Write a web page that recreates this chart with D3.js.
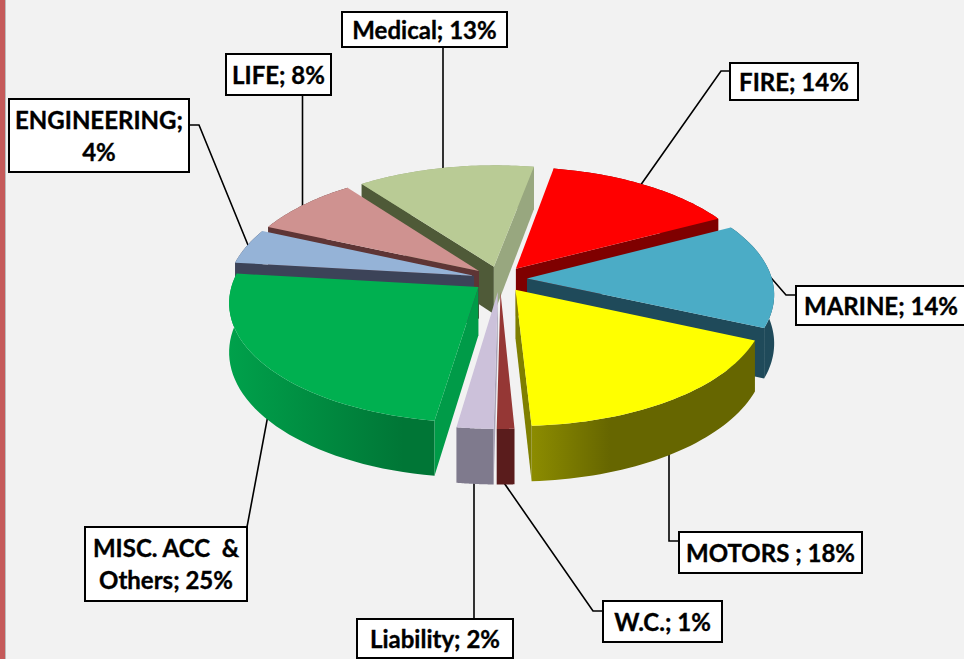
<!DOCTYPE html>
<html>
<head>
<meta charset="utf-8">
<script src="https://cdn.jsdelivr.net/npm/d3@7"></script>
<style>
  html, body { margin: 0; padding: 0; background: #f2f2f2; overflow: hidden; }
  text { font-family: Lato, "Open Sans", sans-serif; font-weight: 700; font-size: 24px; fill: #000; stroke: #000; stroke-width: 0.35px; white-space: pre; }
</style>
</head>
<body>
<svg id="chart" width="964" height="659"></svg>
<script>
// Section-One Data
const categories = ["FIRE", "MARINE", "MOTORS ", "W.C.", "Liability", "MISC. ACC  & Others", "ENGINEERING", "LIFE", "Medical"];
const labelValues = [14, 14, 18, 1, 2, 25, 4, 8, 13];
// slice sizes as measured off the drawn angles, not the same as the printed labels
const sliceValues = [14.4, 14.3, 17.6, 1.0, 2.1, 24.5, 4.8, 8.1, 13.2];

// Styling, same order as categories
const topColors = ["#ff0000", "#4bacc6", "#ffff00", "#953735", "#ccc1da", "#00b050", "#95b3d7", "#cf9290", "#b9cb95"];
const startWall = ["#7f0000", "#1f4a5a", "#7f7f00", "#8a3030", "#aaa3b8", "#009b48", "#3c4358", "#5e3535", "#4f5a38"];
const endWall = ["#7f0000", "#1f4a5a", "#7f7f00", "#5a1c1c", "#7f7a8d", "#007a37", "#3c4358", "#5e3535", "#98a77f"];
const rimLeft = ["#7f0000", "#1f4a5a", "#666600", "#5a1c1c", "#7f7a8d", "#00a14b", "#3c4358", "#5e3535", "#98a77f"];
const rimRight = ["#7f0000", "#1f4a5a", "#8c8c00", "#5a1c1c", "#7f7a8d", "#007636", "#3c4358", "#5e3535", "#98a77f"];
const drawOrder = [8, 0, 7, 6, 1, 5, 2, 4, 3];

// label boxes [x, y, w, h], text break and leader line
const labelBoxes = [
  { box: [730, 63, 128, 37], line: [[730, 71], [721, 71], [640, 186]] },
  { box: [796, 286, 170, 39], line: [[796, 295], [786, 295], [766, 272]] },
  { box: [679, 532, 183, 41], line: [[679, 541], [669, 541], [669, 452]] },
  { box: [603, 601, 119, 41], line: [[603, 611], [593, 611], [502, 480]] },
  { box: [357, 619, 156, 39], line: [[474, 619], [474, 480]] },
  { box: [85, 527, 162, 74], wrap: "Others", line: [[247, 527], [268, 415]] },
  { box: [9, 99, 180, 73], wrap: "4%", line: [[189, 125], [199, 125], [250, 250]] },
  { box: [226, 54, 105, 41], line: [[302.5, 95], [302.5, 207]] },
  { box: [342, 12, 165, 35], line: [[443, 47], [443, 172]] }
];

const cx = 500, cy = 279, radius = 245;
const tilt = 0.476, perspective = 0.123, depth = 48, explode = 27;

const svg = d3.select("#chart");
svg.append("rect").attr("width", 964).attr("height", 659).attr("fill", "#f2f2f2");
svg.append("rect").attr("x", 4).attr("width", 2).attr("height", 659).attr("fill", "#bdbdbd");
svg.append("rect").attr("width", 5).attr("height", 659).attr("fill", "#c55a5a");

const defs = svg.append("defs");
const line = d3.line();

// ground plane to screen, u/v are in radius units, v goes to the back
function project(u, v, drop) {
  const s = 1 / (1 + perspective * v);
  return [cx + radius * u * s, cy - radius * tilt * v * s + drop * s];
}

const pie = d3.pie().sort(null).startAngle(10.5 * Math.PI / 180).endAngle((360 + 10.5) * Math.PI / 180);
const slices = pie(sliceValues);

// leader lines go under the pie
svg.append("g").selectAll("path")
  .data(labelBoxes)
  .enter()
  .append("path")
  .attr("d", d => line(d.line))
  .attr("fill", "none")
  .attr("stroke", "#000")
  .attr("stroke-width", 1.6);

const pieGroup = svg.append("g");

drawOrder.forEach(function (i) {
  const d = slices[i];
  const mid = (d.startAngle + d.endAngle) / 2;
  const ox = explode / radius * Math.sin(mid);
  const oy = explode / radius * Math.cos(mid);

  const angle = d3.scaleLinear().domain([0, 40]).range([d.startAngle, d.endAngle]);
  const rim = d3.range(41).map(n => [ox + Math.sin(angle(n)), oy + Math.cos(angle(n))]);

  const topRim = rim.map(p => project(p[0], p[1], 0));
  const lowRim = rim.map(p => project(p[0], p[1], depth));
  const apexTop = project(ox, oy, 0);
  const apexLow = project(ox, oy, depth);

  const g = pieGroup.append("g");

  // outer wall first, shaded left to right
  const grad = defs.append("linearGradient")
    .attr("id", "rim" + i)
    .attr("gradientUnits", "userSpaceOnUse")
    .attr("x1", d3.min(lowRim, p => p[0]))
    .attr("x2", d3.max(lowRim, p => p[0]))
    .attr("y1", 0)
    .attr("y2", 0);
  grad.append("stop").attr("offset", 0).attr("stop-color", i === 2 ? rimRight[i] : rimLeft[i]);
  grad.append("stop").attr("offset", i === 2 ? 0.35 : 0.85).attr("stop-color", i === 2 ? rimLeft[i] : rimRight[i]);

  g.append("path")
    .attr("d", line(topRim.concat(lowRim.slice().reverse())) + "Z")
    .attr("fill", "url(#rim" + i + ")");

  // cut walls, only the ones turned towards the viewer
  if (Math.sin(d.startAngle) < 0) {
    g.append("path")
      .attr("d", line([apexTop, topRim[0], lowRim[0], apexLow]) + "Z")
      .attr("fill", startWall[i]);
  }
  if (Math.sin(d.endAngle) > 0) {
    g.append("path")
      .attr("d", line([apexTop, topRim[40], lowRim[40], apexLow]) + "Z")
      .attr("fill", endWall[i]);
  }

  // top face
  g.append("path")
    .attr("d", line([apexTop].concat(topRim)) + "Z")
    .attr("fill", topColors[i]);
});

// label boxes
const labels = svg.append("g").selectAll("g")
  .data(labelBoxes)
  .enter()
  .append("g");

labels.append("rect")
  .attr("x", d => d.box[0])
  .attr("y", d => d.box[1])
  .attr("width", d => d.box[2])
  .attr("height", d => d.box[3])
  .attr("fill", "#fff")
  .attr("stroke", "#000")
  .attr("stroke-width", 2);

labels.each(function (d, i) {
  const full = categories[i] + "; " + labelValues[i] + "%";
  const cut = d.wrap ? full.indexOf(d.wrap) : -1;
  const rows = cut > 0 ? [full.slice(0, cut).trimEnd(), full.slice(cut)] : [full];
  const midY = d.box[1] + d.box[3] / 2;
  d3.select(this).selectAll("text")
    .data(rows)
    .enter()
    .append("text")
    .attr("x", d.box[0] + d.box[2] / 2)
    .attr("y", (r, n) => midY + (n - (rows.length - 1) / 2) * 32 + 9)
    .attr("text-anchor", "middle")
    .text(r => r);
});
</script>
</body>
</html>
